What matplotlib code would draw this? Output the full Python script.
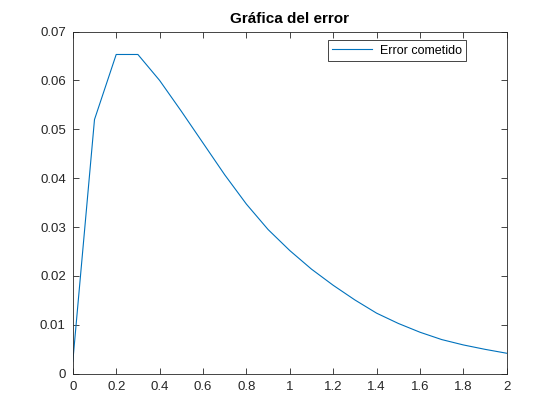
import matplotlib
matplotlib.use('Agg')
import matplotlib.pyplot as plt

# error curve, sampled every 0.1
x = [0.0, 0.1, 0.2, 0.3, 0.4, 0.5, 0.6, 0.7, 0.8, 0.9, 1.0,
     1.1, 1.2, 1.3, 1.4, 1.5, 1.6, 1.7, 1.8, 1.9, 2.0]
error = [0.0025, 0.0520, 0.0653, 0.0653, 0.0600, 0.0537, 0.0472, 0.0407,
         0.0347, 0.0295, 0.0252, 0.0214, 0.0181, 0.0151, 0.0124, 0.0103,
         0.0085, 0.0070, 0.0059, 0.0050, 0.0042]

xticks = [0, 0.2, 0.4, 0.6, 0.8, 1, 1.2, 1.4, 1.6, 1.8, 2]
xtick_labels = ['0', '0.2', '0.4', '0.6', '0.8', '1', '1.2', '1.4', '1.6', '1.8', '2']
yticks = [0, 0.01, 0.02, 0.03, 0.04, 0.05, 0.06, 0.07]
ytick_labels = ['0', '0.01', '0.02', '0.03', '0.04', '0.05', '0.06', '0.07']

plt.rcParams['font.family'] = ['Liberation Sans', 'DejaVu Sans']
dark = '#262626'

fig = plt.figure(figsize=(5.6, 4.2), dpi=100)
ax = fig.add_axes([0.13, 0.11, 0.775, 0.815])

ax.plot(x, error, color='#0072BD', linewidth=0.8, label='Error cometido')

ax.set_xlim(0, 2)
ax.set_ylim(0, 0.07)
ax.set_xticks(xticks)
ax.set_xticklabels(xtick_labels)
ax.set_yticks(yticks)
ax.set_yticklabels(ytick_labels)
ax.tick_params(direction='in', top=True, right=True, length=4, width=0.6,
               colors=dark, labelsize=9.5, pad=5)
for s in ax.spines.values():
    s.set_color(dark)
    s.set_linewidth(0.6)

ax.set_title('Gráfica del error', fontsize=11, fontweight='bold', color='black', pad=6)

leg = ax.legend(loc='upper right', bbox_to_anchor=(0.915, 0.985), fontsize=9,
                fancybox=False, edgecolor=dark, framealpha=1, handlelength=3.2,
                borderpad=0.35, handletextpad=0.6, borderaxespad=0.3)
leg.get_frame().set_linewidth(0.6)

fig.savefig('out.png', dpi=100)
